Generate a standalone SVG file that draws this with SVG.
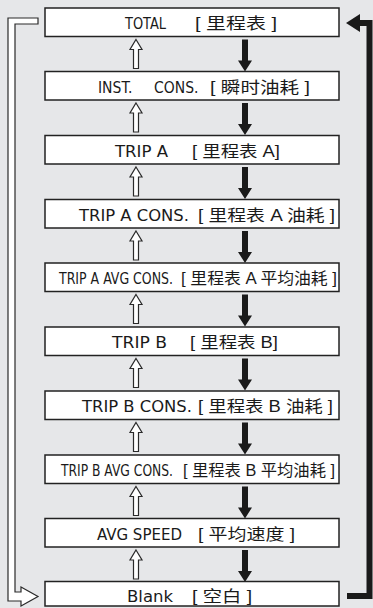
<svg xmlns="http://www.w3.org/2000/svg" xmlns:xlink="http://www.w3.org/1999/xlink" width="373" height="608" viewBox="0 0 373 608">
<style>
.box{fill:#fff;stroke:#222;stroke-width:1.5}
.lat{font-family:"Liberation Sans Narrow","DejaVu Sans Condensed","Liberation Sans",sans-serif;font-size:15.5px;fill:#1a1a1a}
.cjk{font-family:"Liberation Sans Narrow","Liberation Sans","Noto Sans CJK SC",sans-serif;font-size:16px;fill:#1a1a1a}
.hollow{fill:#fff;stroke:#2a2a2a;stroke-width:1.2;stroke-linejoin:miter}
.solid{fill:#1a1a1a}
.thick{fill:none;stroke:#1a1a1a;stroke-width:6;stroke-linejoin:miter}
</style>
<defs>
<path id="up" class="hollow" d="M0,0 L6,10 L2.5,10 L2.5,29 L-2.5,29 L-2.5,10 L-6,10 Z"/>
<path id="down" class="solid" d="M-3,0 L3,0 L3,21 L7,21 L0,32 L-7,21 L-3,21 Z"/>
</defs>
<rect width="373" height="608" fill="#e6e7e9"/>
<g id="connectors">
<path class="hollow" d="M38,18 L8,18 L8,601 L21,601 L21,606 L38,596.5 L21,587 L21,592 L15,592 L15,24 L38,24 Z"/>
<path class="thick" d="M347,596 H369.5 V23 H358"/>
<path class="solid" d="M346,23 L360,14 L360,32 Z"/>
<use xlink:href="#up" x="136" y="39.5"/><use xlink:href="#down" x="245" y="39.5"/>
<use xlink:href="#up" x="136" y="103"/><use xlink:href="#down" x="245" y="103"/>
<use xlink:href="#up" x="136" y="167"/><use xlink:href="#down" x="245" y="167"/>
<use xlink:href="#up" x="136" y="231"/><use xlink:href="#down" x="245" y="231"/>
<use xlink:href="#up" x="136" y="294.5"/><use xlink:href="#down" x="245" y="294.5"/>
<use xlink:href="#up" x="136" y="358.5"/><use xlink:href="#down" x="245" y="358.5"/>
<use xlink:href="#up" x="136" y="422.5"/><use xlink:href="#down" x="245" y="422.5"/>
<use xlink:href="#up" x="136" y="486.5"/><use xlink:href="#down" x="245" y="486.5"/>
<use xlink:href="#up" x="136" y="550"/><use xlink:href="#down" x="245" y="550"/>
</g>
<g id="node-total"><rect class="box" x="45" y="8" width="294" height="28.5"/>
<text class="lat" x="125" y="29" textLength="41" lengthAdjust="spacingAndGlyphs">TOTAL</text>
<text class="cjk" x="195" y="29" textLength="82" lengthAdjust="spacingAndGlyphs">[ 里程表 ]</text></g>
<g id="node-inst"><rect class="box" x="45" y="71.5" width="294" height="28.5"/>
<text class="lat" y="92.5"><tspan x="98">INST.</tspan><tspan x="154">CONS.</tspan></text>
<text class="cjk" x="210" y="92.5" textLength="100" lengthAdjust="spacingAndGlyphs">[ 瞬时油耗 ]</text></g>
<g id="node-tripa"><rect class="box" x="45" y="135.5" width="294" height="28.5"/>
<text class="lat" x="115" y="156.5" textLength="53" lengthAdjust="spacingAndGlyphs">TRIP A</text>
<text class="cjk" x="192" y="156.5" textLength="88" lengthAdjust="spacingAndGlyphs">[ 里程表 A]</text></g>
<g id="node-tripa-cons"><rect class="box" x="45" y="199.5" width="294" height="28.5"/>
<text class="lat" x="79" y="220.5" textLength="110" lengthAdjust="spacingAndGlyphs">TRIP A CONS.</text>
<text class="cjk" x="198" y="220.5" textLength="137" lengthAdjust="spacingAndGlyphs">[ 里程表 A 油耗 ]</text></g>
<g id="node-tripa-avg"><rect class="box" x="45" y="263" width="294" height="28.5"/>
<text class="lat" x="59" y="284" textLength="114" lengthAdjust="spacingAndGlyphs">TRIP A AVG CONS.</text>
<text class="cjk" x="181" y="284" textLength="156" lengthAdjust="spacingAndGlyphs">[ 里程表 A 平均油耗 ]</text></g>
<g id="node-tripb"><rect class="box" x="45" y="327" width="294" height="28.5"/>
<text class="lat" x="112" y="348" textLength="55" lengthAdjust="spacingAndGlyphs">TRIP B</text>
<text class="cjk" x="190" y="348" textLength="88" lengthAdjust="spacingAndGlyphs">[ 里程表 B]</text></g>
<g id="node-tripb-cons"><rect class="box" x="45" y="391" width="294" height="28.5"/>
<text class="lat" x="82" y="412" textLength="110" lengthAdjust="spacingAndGlyphs">TRIP B CONS.</text>
<text class="cjk" x="198" y="412" textLength="135" lengthAdjust="spacingAndGlyphs">[ 里程表 B 油耗 ]</text></g>
<g id="node-tripb-avg"><rect class="box" x="45" y="455" width="294" height="28.5"/>
<text class="lat" x="61" y="476" textLength="112" lengthAdjust="spacingAndGlyphs">TRIP B AVG CONS.</text>
<text class="cjk" x="183" y="476" textLength="152" lengthAdjust="spacingAndGlyphs">[ 里程表 B 平均油耗 ]</text></g>
<g id="node-avg-speed"><rect class="box" x="45" y="518.5" width="294" height="28.5"/>
<text class="lat" x="97" y="539.5" textLength="85" lengthAdjust="spacingAndGlyphs">AVG SPEED</text>
<text class="cjk" x="198" y="539.5" textLength="97" lengthAdjust="spacingAndGlyphs">[ 平均速度 ]</text></g>
<g id="node-blank"><rect class="box" x="45" y="581.5" width="294" height="24.5"/>
<text class="lat" x="127" y="602" textLength="46" lengthAdjust="spacingAndGlyphs">Blank</text>
<text class="cjk" x="192" y="602" textLength="60" lengthAdjust="spacingAndGlyphs">[ 空白 ]</text></g>
</svg>
